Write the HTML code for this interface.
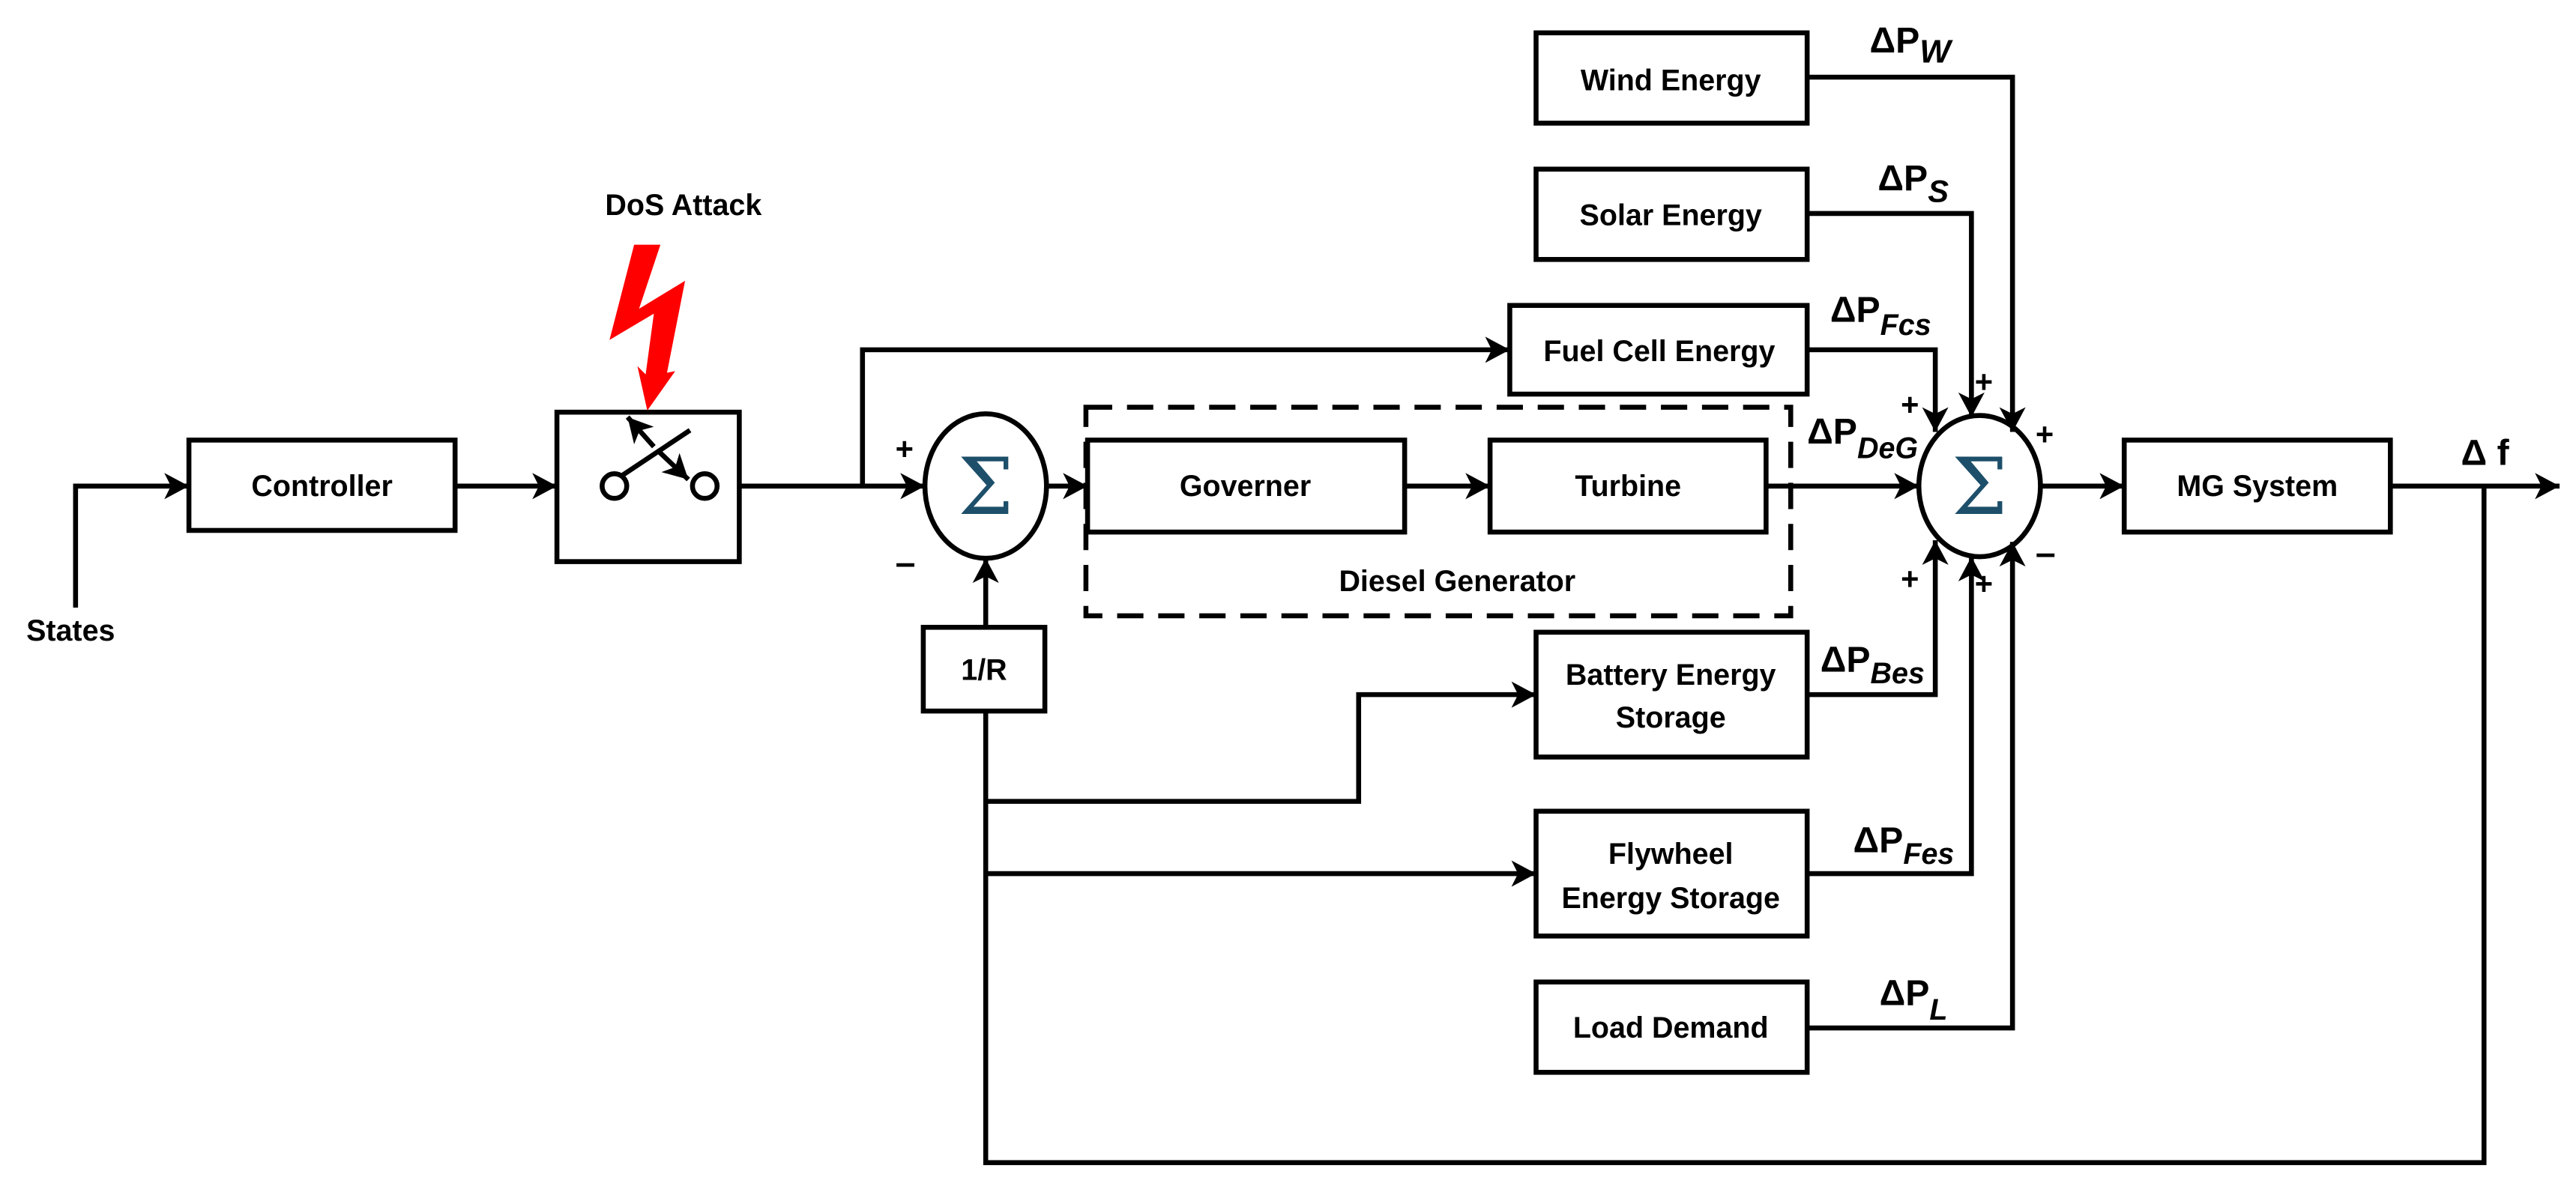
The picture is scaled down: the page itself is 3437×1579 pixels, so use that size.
<!DOCTYPE html>
<html><head><meta charset="utf-8"><style>
html,body{margin:0;padding:0;background:#fff;}
svg{display:block;}
text{font-family:"Liberation Sans",sans-serif;font-weight:bold;fill:#000;}
</style></head><body>
<svg width="3437" height="1579" viewBox="0 0 1568 720.4" preserveAspectRatio="none" xmlns="http://www.w3.org/2000/svg">
<defs>
<marker id="a" markerUnits="userSpaceOnUse" markerWidth="18" markerHeight="16" refX="15" refY="8" orient="auto">
<path d="M0,0 L15,8 L0,16 L4,8 Z" fill="#000"/></marker>
</defs>
<g fill="none" stroke="#000" stroke-width="3">
<rect x="115" y="268" width="162" height="55"/>
<rect x="339" y="251" width="111" height="91"/>
<rect x="662" y="268" width="193" height="56"/>
<rect x="907" y="268" width="168" height="56"/>
<rect x="562" y="382" width="74" height="51"/>
<rect x="935" y="20" width="165" height="55"/>
<rect x="935" y="103" width="165" height="55"/>
<rect x="919" y="186" width="181" height="54"/>
<rect x="935" y="385" width="165" height="76"/>
<rect x="935" y="494" width="165" height="76"/>
<rect x="935" y="598" width="165" height="55"/>
<rect x="1293" y="268" width="162" height="56"/>
<rect x="661" y="248" width="429" height="127" stroke-dasharray="16,9"/>
<ellipse cx="600" cy="296" rx="37" ry="44"/>
<ellipse cx="1205" cy="296" rx="37" ry="43"/>
<polyline points="46,370 46,296 115,296" marker-end="url(#a)"/>
<line x1="277" y1="296" x2="339" y2="296" marker-end="url(#a)"/>
<line x1="450" y1="296" x2="563" y2="296" marker-end="url(#a)"/>
<polyline points="525,296 525,213 919,213" marker-end="url(#a)"/>
<line x1="637" y1="296" x2="662" y2="296" marker-end="url(#a)"/>
<line x1="855" y1="296" x2="907" y2="296" marker-end="url(#a)"/>
<line x1="1075" y1="296" x2="1168" y2="296" marker-end="url(#a)"/>
<line x1="600" y1="382" x2="600" y2="340" marker-end="url(#a)"/>
<polyline points="600,433 600,708 1512,708 1512,296"/>
<polyline points="600,488 827,488 827,423 935,423" marker-end="url(#a)"/>
<line x1="600" y1="532" x2="935" y2="532" marker-end="url(#a)"/>
<polyline points="1100,47 1225,47 1225,263" marker-end="url(#a)"/>
<polyline points="1100,130 1200,130 1200,254" marker-end="url(#a)"/>
<polyline points="1100,213 1178,213 1178,263" marker-end="url(#a)"/>
<polyline points="1100,423 1178,423 1178,329" marker-end="url(#a)"/>
<polyline points="1100,532 1200,532 1200,339" marker-end="url(#a)"/>
<polyline points="1100,626 1225,626 1225,330" marker-end="url(#a)"/>
<line x1="1242" y1="296" x2="1293" y2="296" marker-end="url(#a)"/>
<line x1="1455" y1="296" x2="1558" y2="296" marker-end="url(#a)"/>
<circle cx="374" cy="296" r="7.5"/>
<circle cx="429" cy="296" r="7.5"/>
<line x1="378" y1="290" x2="420" y2="262"/>
<line x1="398" y1="272" x2="382" y2="254" marker-end="url(#a)"/>
<line x1="400" y1="274" x2="419" y2="292" marker-end="url(#a)"/>
</g>
<polygon points="386,149 402,149 389,188 417,171 406,227 411,226 394,250 388,223 393,228 398,191 371,207" fill="#ff0000"/>
<text x="600" y="313" font-size="48" text-anchor="middle" style="fill:#1d4f6a;font-family:'DejaVu Serif',serif;font-weight:normal">Σ</text>
<text x="1205" y="313" font-size="48" text-anchor="middle" style="fill:#1d4f6a;font-family:'DejaVu Serif',serif;font-weight:normal">Σ</text>
<g font-size="18">
<text x="196" y="302" text-anchor="middle">Controller</text>
<text x="758" y="302" text-anchor="middle">Governer</text>
<text x="991" y="302" text-anchor="middle">Turbine</text>
<text x="599" y="414" text-anchor="middle">1/R</text>
<text x="1017" y="55" text-anchor="middle">Wind Energy</text>
<text x="1017" y="137" text-anchor="middle">Solar Energy</text>
<text x="1010" y="220" text-anchor="middle">Fuel Cell Energy</text>
<text x="1017" y="417" text-anchor="middle">Battery Energy</text>
<text x="1017" y="443" text-anchor="middle">Storage</text>
<text x="1017" y="526" text-anchor="middle">Flywheel</text>
<text x="1017" y="553" text-anchor="middle">Energy Storage</text>
<text x="1017" y="632" text-anchor="middle">Load Demand</text>
<text x="1374" y="302" text-anchor="middle">MG System</text>
<text x="887" y="360" text-anchor="middle">Diesel Generator</text>
<text x="43" y="390" text-anchor="middle">States</text>
<text x="416" y="131" text-anchor="middle">DoS Attack</text>
</g>
<g font-size="22">
<text x="1138" y="32">ΔP<tspan font-style="italic" dy="6" font-size="20">W</tspan></text>
<text x="1143" y="116">ΔP<tspan font-style="italic" dy="7" font-size="19">S</tspan></text>
<text x="1114" y="196">ΔP<tspan font-style="italic" dy="8" font-size="18">Fcs</tspan></text>
<text x="1100" y="270">ΔP<tspan font-style="italic" dy="9" font-size="18">DeG</tspan></text>
<text x="1108" y="409">ΔP<tspan font-style="italic" dy="7" font-size="18">Bes</tspan></text>
<text x="1128" y="519">ΔP<tspan font-style="italic" dy="7" font-size="18">Fes</tspan></text>
<text x="1144" y="612">ΔP<tspan font-style="italic" dy="9" font-size="18">L</tspan></text>
<text x="1498" y="283">Δ f</text>
</g>
<g font-size="19">
<text x="545" y="280">+</text>
<text x="545" y="350" font-size="22">–</text>
<text x="1157" y="253">+</text>
<text x="1202" y="239">+</text>
<text x="1239" y="271">+</text>
<text x="1157" y="359">+</text>
<text x="1202" y="362">+</text>
<text x="1239" y="344" font-size="22">–</text>
</g>
</svg>
</body></html>
